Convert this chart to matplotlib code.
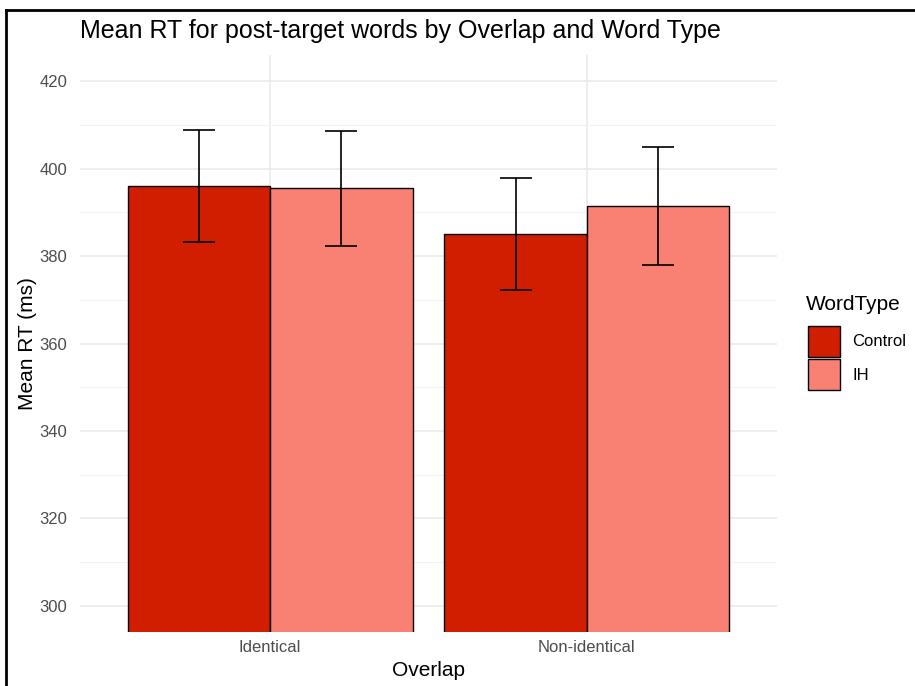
import matplotlib
matplotlib.use("Agg")
import matplotlib.pyplot as plt
from matplotlib.lines import Line2D
from matplotlib.patches import Rectangle
import numpy as np

plt.rcParams["font.family"] = ["Liberation Sans", "DejaVu Sans"]

overlap = ["Identical", "Non-identical"]
word_types = ["Control", "IH"]
mean_rt = {"Control": [396.0, 385.0], "IH": [395.5, 391.5]}
ci_half = {"Control": [12.8, 12.8], "IH": [13.1, 13.5]}
fills = {"Control": "#D11E00", "IH": "#F98173"}

base = 15  # theme base size; titles/text scale off it
W, H = 915, 686
fig = plt.figure(figsize=(W / 100, H / 100), dpi=100)
ax = fig.add_axes([80 / W, 1 - 632 / H, 697 / W, 577 / H])

x = np.arange(1, len(overlap) + 1)
bw = 0.45
for i, wt in enumerate(word_types):
    xs = x + (i - 0.5) * bw
    ax.bar(xs, mean_rt[wt], width=bw, color=fills[wt], edgecolor="black",
           linewidth=1.0, zorder=2)
    ax.errorbar(xs, mean_rt[wt], yerr=ci_half[wt], fmt="none", ecolor="black",
                elinewidth=1.2, capsize=11.2, capthick=1.2, zorder=3)

ax.set_xlim(0.4, 2.6)
ax.set_ylim(294, 426)
ax.set_yticks(np.arange(300, 421, 20))
ax.set_yticks(np.arange(310, 420, 20), minor=True)
ax.set_xticks(x)
ax.set_xticklabels(overlap)
ax.grid(which="major", color="#EBEBEB", linewidth=1.2, zorder=0)
ax.grid(which="minor", axis="y", color="#F3F3F3", linewidth=0.8, zorder=0)
ax.set_axisbelow(True)
for s in ax.spines.values():
    s.set_visible(False)
ax.tick_params(which="both", length=0, labelsize=base * 0.8, labelcolor="#4D4D4D")
ax.tick_params(axis="y", pad=9)
ax.tick_params(axis="x", pad=6)

ax.set_xlabel("Overlap", fontsize=base, labelpad=4)
ax.set_ylabel("Mean RT (ms)", fontsize=base, labelpad=2)
fig.text(80 / W, 1 - 31 / H, "Mean RT for post-target words by Overlap and Word Type",
         fontsize=base * 1.2, ha="left", va="center")

# legend
fig.text(806 / W, 1 - 305 / H, "WordType", fontsize=base, ha="left", va="center")
for j, wt in enumerate(word_types):
    y0 = 326 + j * 33
    fig.patches.append(Rectangle((808 / W, 1 - (y0 + 31) / H), 32 / W, 31 / H,
                                 transform=fig.transFigure, facecolor=fills[wt],
                                 edgecolor="black", linewidth=1.0))
    fig.text(852 / W, 1 - (y0 + 16) / H, wt, fontsize=base * 0.8, ha="left", va="center")

# frame lines on the top and left edges
fig.add_artist(Line2D([6 / W, 1], [1 - 10 / H, 1 - 10 / H], color="black",
                      linewidth=2, transform=fig.transFigure))
fig.add_artist(Line2D([6 / W, 6 / W], [0, 1 - 10 / H], color="black",
                      linewidth=2, transform=fig.transFigure))

fig.savefig("out.png", dpi=100)
